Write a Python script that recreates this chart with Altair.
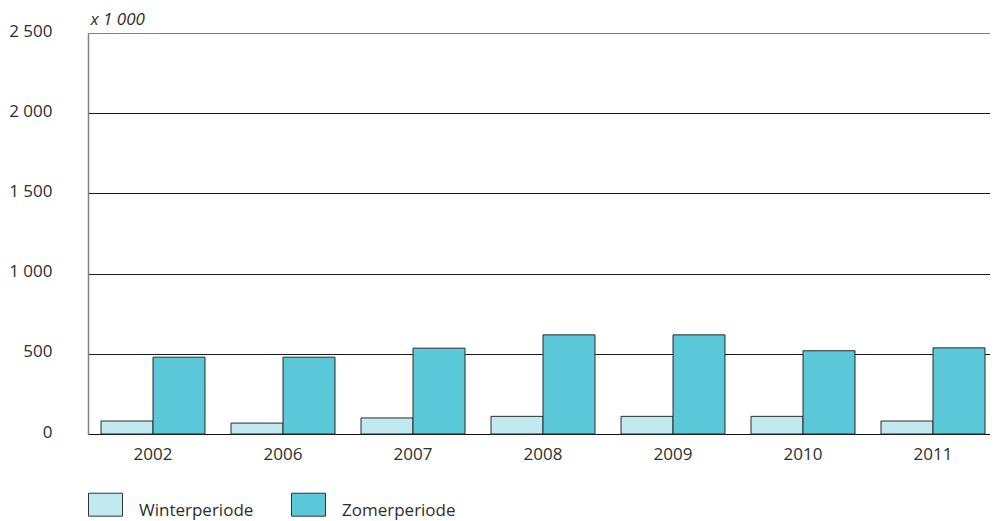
import altair as alt
import pandas as pd

years = ["2002", "2006", "2007", "2008", "2009", "2010", "2011"]
winter = [81, 68, 100, 110, 110, 110, 81]
zomer = [479, 479, 535, 618, 618, 519, 537]
series = ["Winterperiode", "Zomerperiode"]
colors = ["#c0eaf0", "#5bc8d9"]
y_ticks = [0, 500, 1000, 1500, 2000, 2500]

rows = []
for i, y in enumerate(years):
    rows.append({"jaar": y, "periode": series[0], "waarde": winter[i]})
    rows.append({"jaar": y, "periode": series[1], "waarde": zomer[i]})
df = pd.DataFrame(rows)

FONT = "Open Sans"
TXT = "#2e2e2e"
FW = 400
FS = 17

chart = alt.Chart(df).mark_bar(stroke="#2a2a2a", strokeWidth=1).encode(
    x=alt.X("jaar:N", sort=years,
            scale=alt.Scale(paddingInner=0.2, paddingOuter=0.1),
            axis=alt.Axis(title=None, labelAngle=0, ticks=False, domain=True,
                          domainColor="#111111", domainWidth=1.2,
                          labelFontSize=FS, labelPadding=12, labelColor=TXT,
                          labelFont=FONT, labelFontWeight=FW)),
    xOffset=alt.XOffset("periode:N", sort=series),
    y=alt.Y("waarde:Q",
            scale=alt.Scale(domain=[0, 2500], nice=False),
            axis=alt.Axis(values=y_ticks, ticks=False, domain=True,
                          domainColor="#808080", domainWidth=1.5,
                          grid=True,
                          gridColor={"expr": "datum.value == 2500 ? '#808080' : '#1a1a1a'"},
                          gridWidth=1,
                          labelExpr="replace(format(datum.value, ','), ',', ' ')",
                          labelFontSize=FS, labelPadding=36, labelColor=TXT,
                          labelFont=FONT, labelFontWeight=FW, labelOffset=-2,
                          title="x 1 000", titleAngle=0, titleAlign="left",
                          titleBaseline="alphabetic", titleX=2, titleY=-9,
                          titleFontStyle="italic", titleFontWeight=FW,
                          titleFontSize=FS, titleFont=FONT, titleColor=TXT)),
    color=alt.Color("periode:N", sort=series,
                    scale=alt.Scale(domain=series, range=colors),
                    legend=alt.Legend(title=None, orient="none", direction="horizontal",
                                      legendX=0, legendY=452, padding=0,
                                      symbolType="M-1,-0.56L1,-0.56L1,0.79L-1,0.79Z",
                                      symbolSize=1156, symbolStrokeColor="#333333",
                                      symbolStrokeWidth=1, symbolOpacity=1,
                                      labelFontSize=FS, labelFont=FONT, labelFontWeight=FW,
                                      labelColor=TXT, labelOffset=16, labelBaseline="top",
                                      columnPadding=35)),
).properties(
    width=910, height=401,
    autosize=alt.AutoSizeParams(type="none"),
    padding={"left": 80, "top": 25, "right": -8, "bottom": 90},
).configure_view(stroke=None).configure(background="white")

chart.save("out.html", embed_options={"renderer": "svg", "actions": False})
